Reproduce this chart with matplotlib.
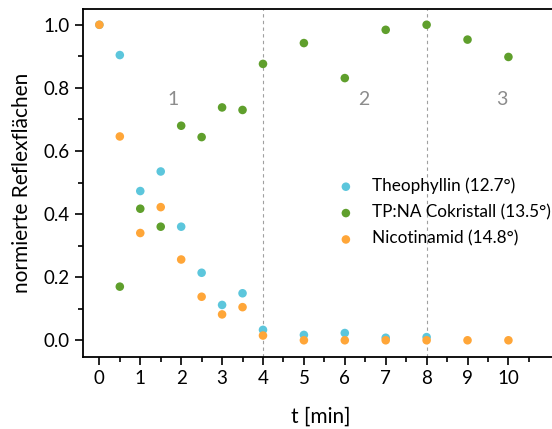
import matplotlib
matplotlib.use('Agg')
import matplotlib.pyplot as plt
from matplotlib.ticker import MultipleLocator, FixedLocator

plt.rcParams['font.family'] = ['Lato', 'DejaVu Sans']

# time points [min]
t = [0, 0.5, 1, 1.5, 2, 2.5, 3, 3.5, 4, 5, 6, 7, 8, 9, 10]

theo_t = [0, 0.5, 1, 1.5, 2, 2.5, 3, 3.5, 4, 5, 6, 7, 8]
theo = [1.0, 0.904, 0.473, 0.535, 0.360, 0.214, 0.112, 0.149, 0.033, 0.017, 0.023, 0.008, 0.010]

cok_t = [0.5, 1, 1.5, 2, 2.5, 3, 3.5, 4, 5, 6, 7, 8, 9, 10]
cok = [0.170, 0.417, 0.360, 0.680, 0.644, 0.738, 0.730, 0.876, 0.942, 0.831, 0.984, 1.0, 0.953, 0.898]

nico_t = t
nico = [1.0, 0.646, 0.340, 0.422, 0.256, 0.138, 0.082, 0.105, 0.015, 0.0, 0.0, 0.0, 0.0, 0.0, 0.0]

labels = ['Theophyllin (12.7°)', 'TP:NA Cokristall (13.5°)', 'Nicotinamid (14.8°)']
colors = ['#5cc6dc', '#5f9f2c', '#ffa638']

phase_lines = [4, 8]
phase_labels = ['1', '2', '3']
phase_x = [1.8, 6.47, 9.84]

fig = plt.figure(figsize=(5.52, 4.29), dpi=100)
ax = fig.add_axes([83 / 552, 1 - 357 / 429, 1 - 83 / 552 + 0.01, (357 - 9) / 429])

for x in phase_lines:
    ax.axvline(x, color='#a0a0a0', lw=0.8, ls=(0, (3, 3)), zorder=1)

for xs, ys, c, lab in zip([theo_t, cok_t, nico_t], [theo, cok, nico], colors, labels):
    ax.scatter(xs, ys, s=38, color=c, edgecolors='none', label=lab, zorder=3)

for x, s in zip(phase_x, phase_labels):
    ax.text(x, 0.762, s, color='#8c8c8c', fontsize=14, ha='center', va='center')

ax.set_xlim(-0.4, 11.2)
ax.set_ylim(-0.053, 1.05)
ax.xaxis.set_major_locator(FixedLocator(range(0, 11)))
ax.xaxis.set_minor_locator(FixedLocator([i * 0.5 - 0.5 for i in range(23)]))
ax.yaxis.set_major_locator(MultipleLocator(0.2))
ax.yaxis.set_minor_locator(MultipleLocator(0.1))
ax.tick_params(which='both', direction='out', width=1.2, labelsize=13.5)
ax.tick_params(which='major', length=6)
ax.tick_params(which='minor', length=3.5)
ax.yaxis.set_major_formatter(matplotlib.ticker.FormatStrFormatter('%.1f'))
ax.spines['right'].set_visible(False)
for sp in ['left', 'bottom', 'top']:
    ax.spines[sp].set_linewidth(1.3)

ax.set_xlabel('t [min]', fontsize=15, labelpad=14)
ax.set_ylabel('normierte Reflexflächen', fontsize=15, labelpad=8)

ax.legend(loc='upper left', bbox_to_anchor=(0.5, 0.54), frameon=False, fontsize=12.3,
          handletextpad=0.5, labelspacing=0.6, borderpad=0)

fig.savefig('out.png', dpi=100)
